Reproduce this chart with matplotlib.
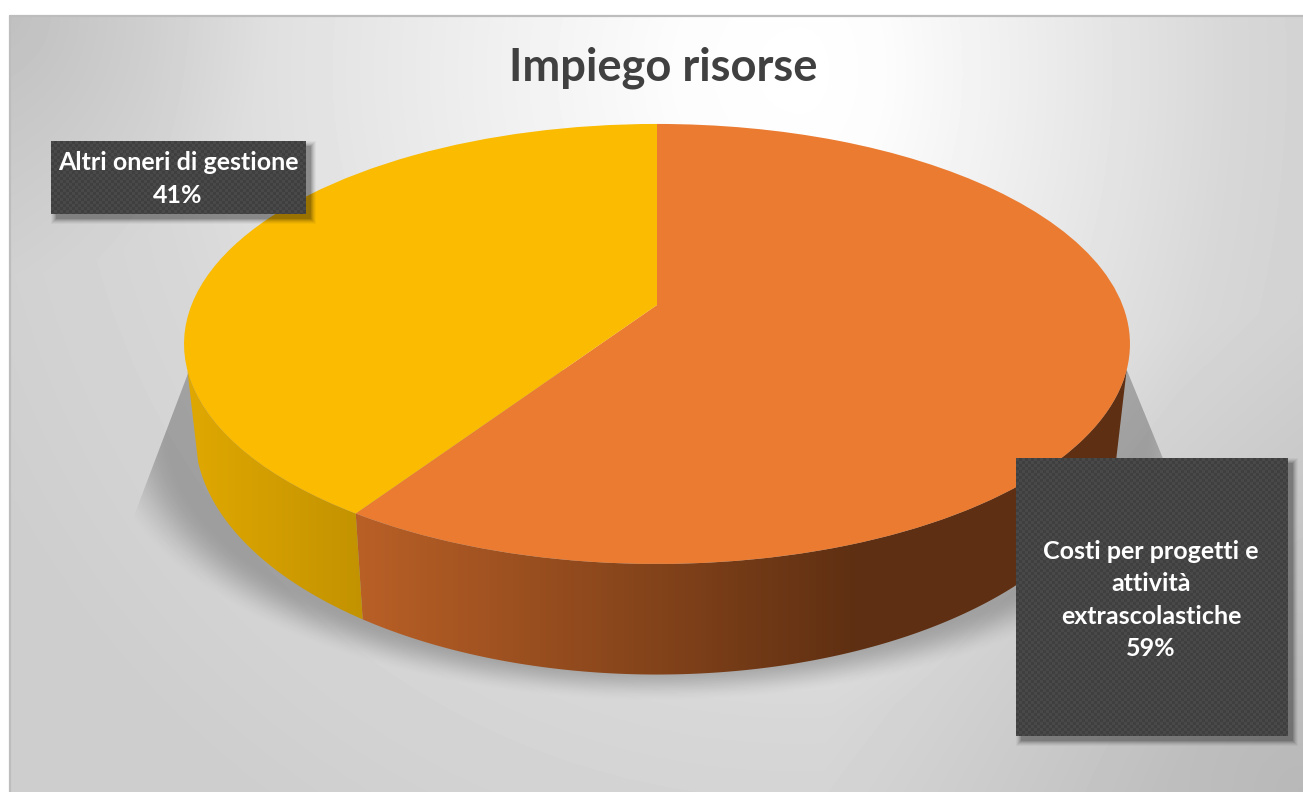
import matplotlib
matplotlib.use("Agg")
import matplotlib.pyplot as plt
import matplotlib.transforms as mtransforms
from matplotlib.patches import Polygon, Rectangle
import numpy as np

title = "Impiego risorse"
categories = ["Costi per progetti e\nattività\nextrascolastiche", "Altri oneri di gestione"]
values = [59.3, 40.7]
percent_labels = ["59%", "41%"]
top_colors = ["#EB7B30", "#FABB00"]

W, H = 1303, 792
plt.rcParams['font.family'] = ['Lato', 'DejaVu Sans']


class Perspective(mtransforms.Transform):
    # unit circle -> tilted disc in pixel coords
    input_dims = 2
    output_dims = 2

    def __init__(self, cy, sx=1.0, sy=1.0):
        super().__init__()
        self.cy = cy
        self.sx = sx
        self.sy = sy

    def transform_non_affine(self, values):
        pts = np.asarray(values)
        w = 1 + 0.177 * pts[:, 1]
        return np.column_stack((657 + self.sx * 465.5 * pts[:, 0] / w,
                                self.cy - self.sy * 213.1 * pts[:, 1] / w))


top_rim = Perspective(305)
bottom_rim = Perspective(391, sx=0.977, sy=1.095)

fig = plt.figure(figsize=(W / 100, H / 100), dpi=100, facecolor="white")
ax = fig.add_axes([0, 0, 1, 1])
ax.set_axis_off()

# background: light spot near the top, darker top left and bottom right corners
yy, xx = np.mgrid[15:H, 9:W]
dx = np.where(xx > 800, (xx - 800) * 1.5, 800 - xx)
dist = np.hypot(dx, yy - 70)
grey = np.interp(dist, [0, 130, 400, 650, 900], [255, 252, 233, 215, 206])
grey = grey - 18 * np.clip(1 - np.hypot(xx - 9, yy - 15) / 260, 0, 1)
grey = grey - 22 * np.clip(1 - np.hypot(xx - W, yy - H) / 480, 0, 1)
ax.imshow(grey / 255, cmap="gray", vmin=0, vmax=1, extent=(9, W, H, 15), aspect="auto", zorder=0)
ax.plot([10, 10, W], [H, 16, 16], color="#bdbdbd", lw=1.6, zorder=1)

# shadow under the pie
yy, xx = np.mgrid[360:720, 100:1240]
r = np.hypot((xx - 657) / 560, (yy - 430) / 272)
soft = np.clip((1 - r) / 0.13, 0, 1)
soft = soft * soft * (3 - 2 * soft)
left_edge = 187 - (yy - 373) * 52 / 137
right_edge = 1127 + (yy - 370) * 36 / 88
soft = soft * np.clip(xx - left_edge, 0, 1) * np.clip(right_edge - xx, 0, 1) * (yy >= 370)
shadow = np.zeros(soft.shape + (4,))
shadow[..., 3] = soft * 0.25
ax.imshow(shadow, extent=(100, 1240, 720, 360), aspect="auto", zorder=2)

# side of the pie
xs = np.arange(W)
orange_side = np.column_stack((np.interp(xs, [364, 860], [184, 94]),
                               np.interp(xs, [364, 860], [95, 47]),
                               np.interp(xs, [364, 860], [38, 18]))) / 255
yellow_side = np.column_stack((np.interp(xs, [187, 364], [224, 194]),
                               np.interp(xs, [187, 364], [168, 146]),
                               np.zeros(W))) / 255
side_colors = [orange_side, yellow_side]

edges = 360 * np.cumsum([0] + values) / np.sum(values)
visible_from, visible_to = 106.8, 253.2
for i in range(len(values)):
    a1 = max(edges[i], visible_from)
    a2 = min(edges[i + 1], visible_to)
    ang = np.radians(np.linspace(a1, a2, 200))
    circle = np.column_stack((np.sin(ang), np.cos(ang)))
    outline = np.vstack((top_rim.transform(circle), bottom_rim.transform(circle)[::-1]))
    clip = Polygon(outline, closed=True, transform=ax.transData)
    im = ax.imshow(side_colors[i][None, :, :], extent=(0, W, H, 0), aspect="auto", zorder=3)
    im.set_clip_path(clip)

# top of the pie
wedges, _ = ax.pie(values, colors=top_colors, startangle=90, counterclock=False)
for wedge in wedges:
    wedge.set_transform(top_rim + ax.transData)
    wedge.set_zorder(4)

ax.set_aspect("auto")
ax.set_xlim(0, W)
ax.set_ylim(H, 0)
ax.set_axis_off()


def label_box(x0, y0, x1, y1):
    # soft shadow, then the dotted box
    for grow, alpha in [(5, 0.05), (4, 0.07), (3, 0.09), (2, 0.12), (1, 0.14), (0, 0.18)]:
        ax.add_patch(Rectangle((x0 + 5 - grow, y0 + 5 - grow), x1 - x0 + 2 * grow, y1 - y0 + 2 * grow,
                               facecolor="black", edgecolor="none", alpha=alpha * 0.7, zorder=5))
    by, bx = np.mgrid[0:y1 - y0, 0:x1 - x0]
    dots = ((bx % 6 < 3) & (by % 6 < 3)) | ((bx % 6 >= 3) & (by % 6 >= 3))
    box = np.where(dots, 0x49, 0x3f) / 255
    ax.imshow(box, cmap="gray", vmin=0, vmax=1, extent=(x0, x1, y1, y0), aspect="auto",
              interpolation="bilinear", zorder=6)


label_box(51, 141, 306, 214)
label_box(1016, 458, 1288, 736)
ax.set_xlim(0, W)
ax.set_ylim(H, 0)

ax.text(663, 68, title, ha="center", va="center", fontsize=32.6, fontweight="bold", color="#404040", zorder=7)

ax.text(178, 179, categories[1] + "\n" + percent_labels[1], ha="center", va="center", fontsize=18,
        fontweight="bold", color="white", linespacing=1.5, zorder=7)
ax.text(1151, 600, categories[0] + "\n" + percent_labels[0], ha="center", va="center", fontsize=18,
        fontweight="bold", color="white", linespacing=1.5, zorder=7)

fig.savefig("out.png", dpi=100)
